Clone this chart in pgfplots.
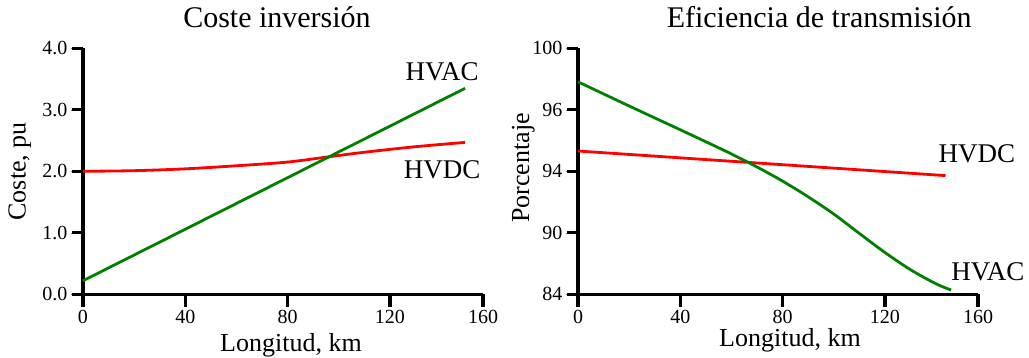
\documentclass[border=0pt]{standalone}
\usepackage{fontspec}
\setmainfont{Liberation Serif}
\usepackage{pgfplots}
\pgfplotsset{compat=1.18}

\definecolor{acgreen}{RGB}{0,128,0}
\definecolor{dcred}{RGB}{255,0,0}

\tikzset{
  curve/.style={line width=2.8pt},
  tag/.style={font=\fontsize{27}{29}\selectfont, anchor=base},
  tickmark/.style={line width=3.4pt, black},
}

\pgfplotsset{
  panel/.style={
    scale only axis,
    width=400pt, height=246pt,
    axis x line=bottom, axis y line=left,
    axis line style={-, line width=3.4pt, black},
    tick align=outside,
    major tick length=12pt,
    xmin=0, xmax=156.4,
    ymin=0, ymax=4,
    xtick={0,40,80,120,156.4},
    xticklabels={0,40,80,120,160},
    ytick={0,1,2,3,4},
    tick label style={font=\fontsize{20}{22}\selectfont},
    /pgf/number format/assume math mode=true,
    label style={font=\fontsize{26}{28}\selectfont},
    title style={font=\fontsize{30}{32}\selectfont, anchor=base},
    clip=false,
  },
}

\begin{document}
\begin{tikzpicture}
\useasboundingbox (-83pt,-63.7pt) rectangle (946pt,294.3pt);

% Investment cost
\begin{axis}[panel,
  at={(0pt,0pt)}, anchor=origin,
  yticklabels={0.0,1.0,2.0,3.0,4.0},
  title={Coste inversión},
  title style={at={(axis description cs:0.485,1)}, yshift=15pt},
  xlabel={Longitud, km},
  xlabel style={at={(axis description cs:0.52,0)}, anchor=base, yshift=-57.7pt},
  ylabel={Coste, pu},
  ylabel style={at={(axis description cs:-0.158,0.5)}, anchor=center, rotate=0},
]
\addplot[curve, dcred, smooth] coordinates {
  (0,2.00) (20,2.01) (40,2.04) (60,2.09) (80,2.15) (95,2.23)
  (110,2.31) (130,2.40) (149.4,2.47)
};
\addplot[curve, acgreen] coordinates {(0,0.22) (149.4,3.35)};
\node[tag] at (axis cs:140.4,3.48) {HVAC};
\node[tag] at (axis cs:140.4,1.89) {HVDC};
\end{axis}

% Transmission efficiency
\begin{axis}[panel,
  at={(495pt,0pt)}, anchor=origin,
  yticklabels={84,90,94,96,100},
  title={Eficiencia de transmisión},
  title style={at={(axis description cs:0.603,1)}, yshift=15pt},
  xlabel={Longitud, km},
  xlabel style={at={(axis description cs:0.53,0)}, anchor=base, yshift=-52.7pt},
  ylabel={Porcentaje},
  ylabel style={at={(axis description cs:-0.137,0.513)}, anchor=center, rotate=0},
]
\addplot[curve, dcred] coordinates {(0,2.33) (143.7,1.93)};
\addplot[curve, acgreen, smooth] coordinates {
  (0,3.455) (10,3.258) (20,3.062) (30,2.868) (40,2.675) (50,2.480)
  (60,2.282) (70,2.070) (80,1.840) (90,1.585) (100,1.305) (110,0.990)
  (120,0.680) (130,0.400) (140,0.170) (145.9,0.070)
};
\node[tag] at (axis cs:156,2.14) {HVDC};
\node[tag] at (axis cs:160.3,0.23) {HVAC};
\end{axis}

% outward tick marks of both panels (axes are 400pt x 246pt)
\foreach \ox in {0,495} {
  \foreach \t in {0,102.3,204.6,306.9,400} {
    \draw[tickmark] (\ox pt+\t pt,0pt) -- (\ox pt+\t pt,-13pt);
  }
  \foreach \t in {0,61.5,123,184.5,246} {
    \draw[tickmark] (\ox pt,\t pt) -- (\ox pt-11pt,\t pt);
  }
}
\end{tikzpicture}
\end{document}
